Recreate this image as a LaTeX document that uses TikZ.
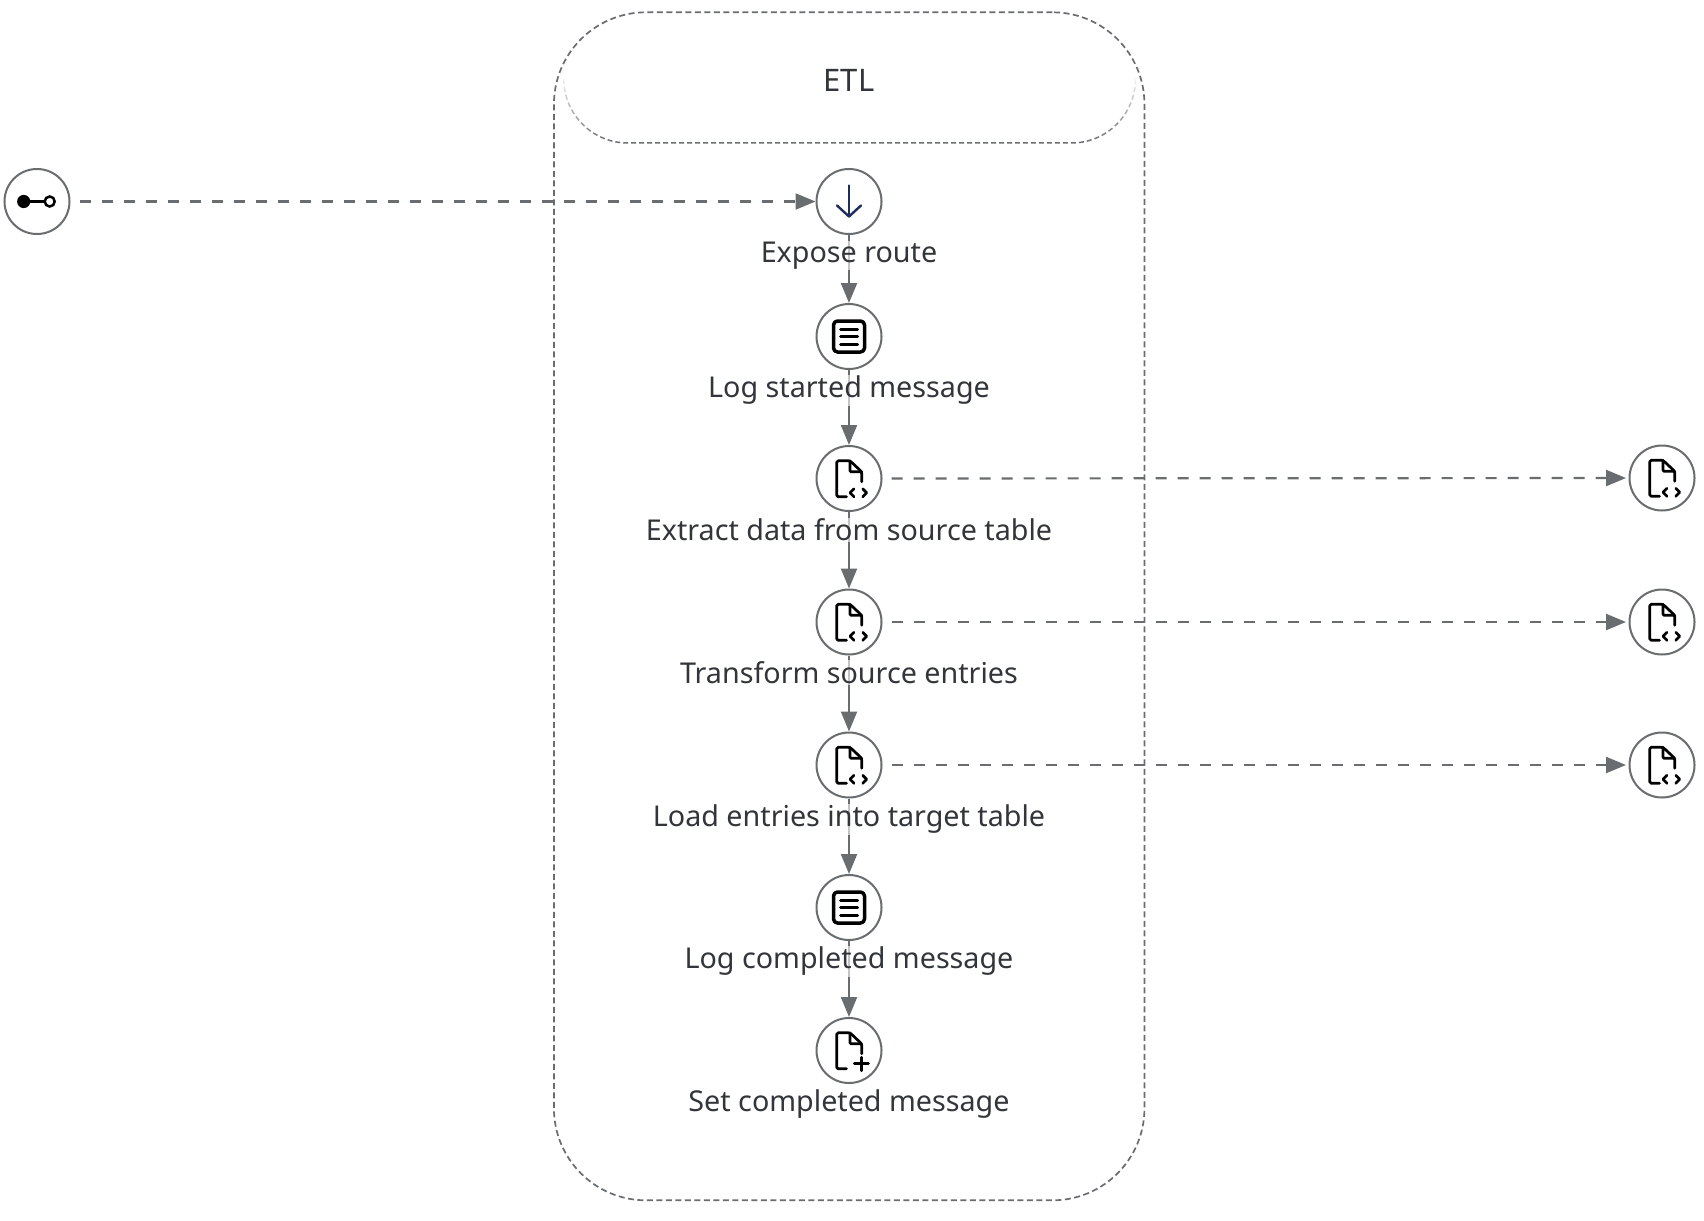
\documentclass[tikz,border=0pt]{standalone}
\usepackage{fontspec}
\setmainfont{Noto Sans}
\usetikzlibrary{arrows.meta,fadings}
\definecolor{edgegray}{HTML}{6A6D70}
\definecolor{labelink}{HTML}{32363A}
\definecolor{navyicon}{HTML}{1D2D5C}
\tikzfading[name=hdrfade, top color=transparent!92, bottom color=transparent!0]
\tikzset{
  every node/.style={font=\fontsize{28.7}{34}\selectfont, text=labelink},
  stepnode/.style={circle, draw=edgegray, line width=2pt, fill=white, minimum size=65pt, inner sep=0pt},
  steplabel/.style={fill=white, fill opacity=.6, text opacity=1, inner sep=1pt},
  flow/.style={draw=edgegray, line width=2.2pt, -{Triangle[length=20pt,width=16pt]}},
  msgflow/.style={flow, dash pattern=on 11pt off 11pt, shorten <=9pt},
  groupbox/.style={rectangle, draw=edgegray, line width=1.7pt, dash pattern=on 6pt off 3.5pt, rounded corners=92pt, minimum width=590.5pt, minimum height=1188pt, inner sep=0pt},
  ink/.style={draw=black, line width=2.7pt, line cap=round, line join=round},
  pics/docbody/.style={code={
    \draw[ink, rounded corners=1.5pt] (12.7,3.3) -- (12.7,-6.7) -- (1,-17.7) -- (-12.3,-17.7) -- (-12.3,18.3) -- (-2.5,18.3);
    \draw[ink, rounded corners=1pt] (1,-17.7) -- (1,-6.7) -- (12.7,-6.7);
  }},
  pics/doccode/.style={code={
    \pic {docbody};
    \draw[ink] (5,10.3) -- (1,14.3) -- (5,18.3);
    \draw[ink] (13.7,10.3) -- (17.7,14.3) -- (13.7,18.3);
  }},
  pics/docplus/.style={code={
    \pic {docbody};
    \draw[ink, line width=3pt] (5.3,13.2) -- (19.3,13.2);
    \draw[ink, line width=3pt] (12.3,6.8) -- (12.3,20);
  }},
  pics/logicon/.style={code={
    \draw[ink, line width=3.5pt, rounded corners=4pt] (-15.5,-15.5) rectangle (15.5,15.5);
    \draw[ink, line width=3pt] (-8.5,-7.5) -- (8.5,-7.5);
    \draw[ink, line width=3pt] (-8.5,0) -- (8.5,0);
    \draw[ink, line width=3pt] (-8.5,7.5) -- (8.5,7.5);
  }},
  pics/downicon/.style={code={
    \draw[navyicon, line width=2.4pt, line cap=round, line join=round] (0,-16) -- (0,15);
    \draw[navyicon, line width=2.4pt, line cap=round, line join=round] (-12,4) -- (0,15) -- (12,4);
  }},
  pics/starticon/.style={code={
    \draw[black, line width=2.5pt] (-13,0) -- (8,0);
    \fill[black] (-13.3,0) circle (6.6pt);
    \draw[black, line width=2.5pt] (12.7,0) circle (5pt);
  }},
}
\begin{document}
\begin{tikzpicture}[x=1pt,y=-1pt]
\useasboundingbox (0,0) rectangle (1704,1220);
\fill[white] (0,0) rectangle (1704,1220);

% container and its header
\node[groupbox] (etl) at (849.2,606.3) {};
\draw[edgegray, line width=1.5pt, dash pattern=on 5pt off 3pt, path fading=hdrfade, fit fading=true]
  (564,79) arc[start angle=180, end angle=90, x radius=64pt, y radius=-64pt]
  -- (1072,143) arc[start angle=90, end angle=0, x radius=64pt, y radius=-64pt];
\node[font=\fontsize{31}{36}\selectfont] (etltitle) at (849,80) {ETL};

% step circles
\node[stepnode] (start) at (37,201.5) {};
\node[stepnode] (s1) at (849,201.5) {};
\node[stepnode] (s2) at (849,336.5) {};
\node[stepnode] (s3) at (849,478.5) {};
\node[stepnode] (s4) at (849,622) {};
\node[stepnode] (s5) at (849,765) {};
\node[stepnode] (s6) at (849,907.5) {};
\node[stepnode] (s7) at (849,1050.5) {};
\node[stepnode] (r3) at (1662,478) {};
\node[stepnode] (r4) at (1662,622) {};
\node[stepnode] (r5) at (1662,765) {};

% connectors
\draw[flow] (s1) -- (s2);
\draw[flow] (s2) -- (s3);
\draw[flow] (s3) -- (s4);
\draw[flow] (s4) -- (s5);
\draw[flow] (s5) -- (s6);
\draw[flow] (s6) -- (s7);
\draw[msgflow] (start) -- (s1);
\draw[msgflow, shorten >=2.5pt] (s3) -- (r3);
\draw[msgflow, shorten >=2.5pt] (s4) -- (r4);
\draw[msgflow, shorten >=2.5pt] (s5) -- (r5);

% labels
\node[steplabel] (l1) at (849,255.5) {Expose route};
\node[steplabel] (l2) at (849,390.5) {Log started message};
\node[steplabel] (l3) at (849,530) {Extract data from source table};
\node[steplabel] (l4) at (849,672.5) {Transform source entries};
\node[steplabel] (l5) at (849,819.5) {Load entries into target table};
\node[steplabel] (l6) at (849,961.5) {Log completed message};
\node[steplabel] (l7) at (849,1104.5) {Set completed message};

% icons
\pic at (start) {starticon};
\pic at (s1) {downicon};
\pic at (s2) {logicon};
\pic at (s3) {doccode};
\pic at (s4) {doccode};
\pic at (s5) {doccode};
\pic at (s6) {logicon};
\pic at (s7) {docplus};
\pic at (r3) {doccode};
\pic at (r4) {doccode};
\pic at (r5) {doccode};
\end{tikzpicture}
\end{document}
